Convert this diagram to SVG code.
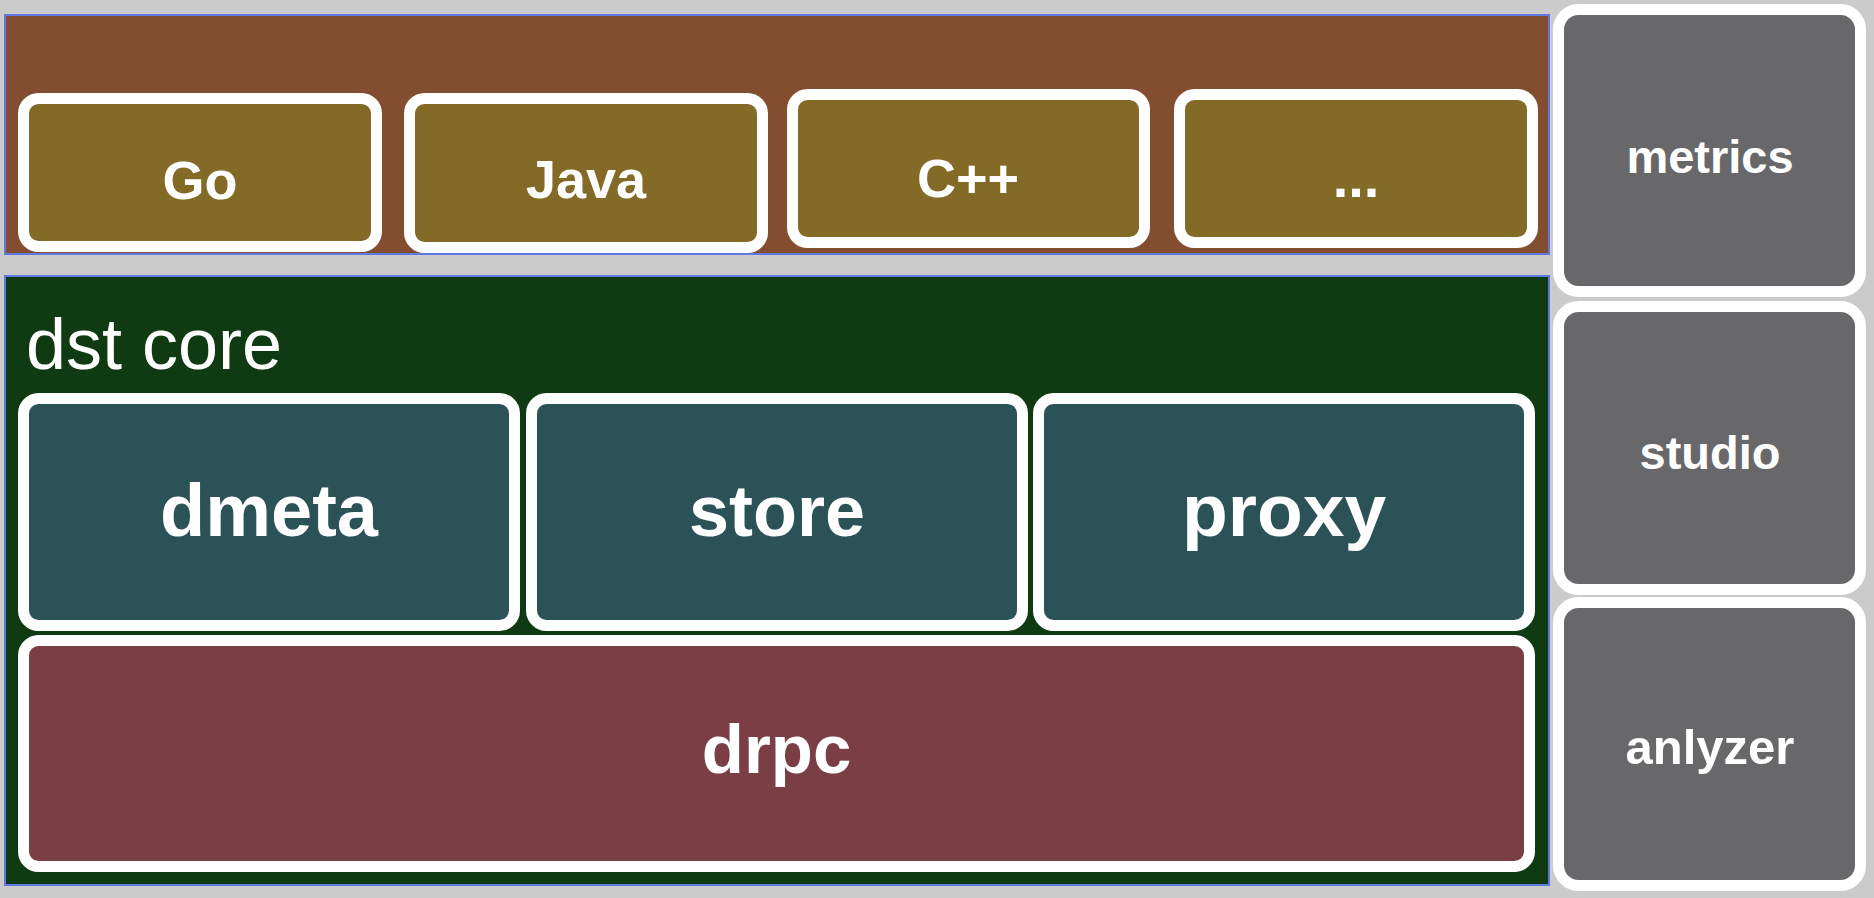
<svg xmlns="http://www.w3.org/2000/svg" width="1874" height="898" viewBox="0 0 1874 898">
<style>
.bg{fill:#cbcbcb}
.panel{stroke:#5f78e2;stroke-width:2}
.node{stroke:#ffffff;stroke-width:11}
.lang{fill:#836a27}
.core{fill:#2b5256}
.rpc{fill:#7a3e44}
.side{fill:#68686a}
.lbl{font-family:"Liberation Sans",Arial,sans-serif;font-weight:bold;fill:#ffffff;text-anchor:middle}
.title{font-family:"Liberation Sans",Arial,sans-serif;fill:#ffffff;font-size:72px}
</style>
<rect class="bg" x="0" y="0" width="1874" height="898"/>
<g id="sdk-layer">
<rect class="panel" x="5" y="15" width="1544" height="239" fill="#834e30"/>
</g>
<g id="dst-core">
<rect class="panel" x="5" y="276" width="1544" height="609" fill="#0f3a12"/>
<text class="title" x="26" y="369">dst core</text>
</g>
<g id="node-go">
<rect class="node lang" x="23.5" y="98.5" width="353" height="148" rx="15"/>
<text class="lbl" x="200" y="199" font-size="54">Go</text>
</g>
<g id="node-java">
<rect class="node lang" x="409.5" y="98.5" width="353" height="149" rx="15"/>
<text class="lbl" x="586" y="198" font-size="54">Java</text>
</g>
<g id="node-cpp">
<rect class="node lang" x="792.5" y="94.5" width="352" height="148" rx="15"/>
<text class="lbl" x="968" y="197" font-size="54">C++</text>
</g>
<g id="node-more">
<rect class="node lang" x="1179.5" y="94.5" width="353" height="148" rx="15"/>
<text class="lbl" x="1356" y="197" font-size="56">...</text>
</g>
<g id="node-dmeta">
<rect class="node core" x="23.5" y="398.5" width="491" height="227" rx="15"/>
<text class="lbl" x="269" y="536" font-size="74">dmeta</text>
</g>
<g id="node-store">
<rect class="node core" x="531.5" y="398.5" width="491" height="227" rx="15"/>
<text class="lbl" x="777" y="536" font-size="72">store</text>
</g>
<g id="node-proxy">
<rect class="node core" x="1038.5" y="398.5" width="491" height="227" rx="15"/>
<text class="lbl" x="1284" y="536" font-size="75">proxy</text>
</g>
<g id="node-drpc">
<rect class="node rpc" x="23.5" y="640.5" width="1506" height="226" rx="15"/>
<text class="lbl" x="776.5" y="773" font-size="69">drpc</text>
</g>
<g id="node-metrics">
<rect class="node side" x="1558.5" y="9.5" width="302" height="282" rx="20"/>
<text class="lbl" x="1710" y="173" font-size="47">metrics</text>
</g>
<g id="node-studio">
<rect class="node side" x="1558.5" y="306.5" width="302" height="283" rx="20"/>
<text class="lbl" x="1710" y="469" font-size="47">studio</text>
</g>
<g id="node-anlyzer">
<rect class="node side" x="1558.5" y="602.5" width="302" height="283" rx="20"/>
<text class="lbl" x="1710" y="764" font-size="49">anlyzer</text>
</g>
<g id="connectors"/>
</svg>
